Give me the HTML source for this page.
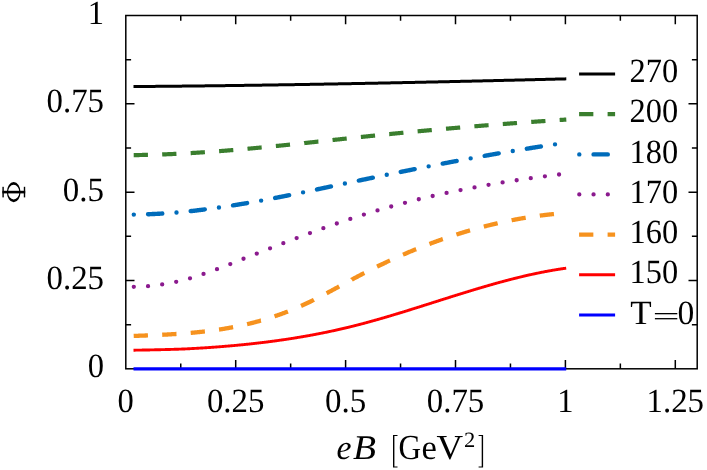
<!DOCTYPE html>
<html><head><meta charset="utf-8"><title>Phi vs eB</title>
<style>html,body{margin:0;padding:0;background:#fff;}svg{display:block;}text{font-family:"Liberation Serif",serif;fill:#000;text-rendering:geometricPrecision;}</style></head><body>
<svg width="707" height="470" viewBox="0 0 707 470">
<rect x="0" y="0" width="707" height="470" fill="#fff"/>
<g fill="none" stroke="#000" stroke-width="1.5" stroke-linecap="butt">
<rect x="125.8" y="15.5" width="571.40" height="353.30"/>
<path d="M180.75,368.8 v-5.3 M180.75,15.5 v5.3 M235.70,368.8 v-8.7 M235.70,15.5 v8.7 M290.65,368.8 v-5.3 M290.65,15.5 v5.3 M345.60,368.8 v-8.7 M345.60,15.5 v8.7 M400.55,368.8 v-5.3 M400.55,15.5 v5.3 M455.50,368.8 v-8.7 M455.50,15.5 v8.7 M510.45,368.8 v-5.3 M510.45,15.5 v5.3 M565.40,368.8 v-8.7 M565.40,15.5 v8.7 M620.35,368.8 v-5.3 M620.35,15.5 v5.3 M675.30,368.8 v-8.7 M675.30,15.5 v8.7 M125.8,324.64 h5.3 M697.2,324.64 h-5.3 M125.8,280.48 h8.7 M697.2,280.48 h-8.7 M125.8,236.31 h5.3 M697.2,236.31 h-5.3 M125.8,192.15 h8.7 M697.2,192.15 h-8.7 M125.8,147.99 h5.3 M697.2,147.99 h-5.3 M125.8,103.82 h8.7 M697.2,103.82 h-8.7 M125.8,59.66 h5.3 M697.2,59.66 h-5.3"/>
</g>
<g fill="none" stroke-linejoin="round">
<path d="M133.5,368.90 L566.2,368.90" stroke="#0000ff" stroke-width="3.1"/>
<path d="M133.50,350.20 L134.04,350.19 L134.58,350.19 L135.12,350.18 L135.67,350.17 L136.21,350.16 L136.75,350.16 L137.29,350.15 L137.83,350.14 L138.37,350.13 L138.92,350.12 L139.46,350.11 L140.00,350.11 L140.54,350.10 L141.08,350.09 L141.62,350.08 L142.16,350.07 L142.71,350.06 L143.25,350.05 L143.79,350.04 L144.33,350.03 L144.87,350.02 L145.41,350.01 L145.96,350.00 L146.50,349.99 L147.04,349.98 L147.58,349.97 L148.12,349.96 L148.66,349.95 L149.21,349.94 L149.75,349.93 L150.29,349.92 L150.83,349.91 L151.37,349.90 L151.91,349.88 L152.45,349.87 L153.00,349.86 L153.54,349.85 L154.08,349.84 L154.62,349.82 L155.16,349.81 L155.70,349.80 L156.25,349.79 L156.79,349.77 L157.33,349.76 L157.87,349.75 L158.41,349.74 L158.95,349.72 L159.49,349.71 L160.04,349.69 L160.58,349.68 L161.12,349.67 L161.66,349.66 L162.20,349.64 L162.74,349.63 L163.29,349.62 L163.83,349.60 L164.37,349.59 L164.91,349.58 L165.45,349.56 L165.99,349.55 L166.53,349.53 L167.08,349.52 L167.62,349.51 L168.16,349.49 L168.70,349.48 L169.24,349.46 L169.78,349.45 L170.33,349.43 L170.87,349.41 L171.41,349.40 L171.95,349.38 L172.49,349.37 L173.03,349.35 L173.57,349.33 L174.12,349.32 L174.66,349.30 L175.20,349.28 L175.74,349.27 L176.28,349.25 L176.82,349.23 L177.37,349.21 L177.91,349.19 L178.45,349.18 L178.99,349.16 L179.53,349.14 L180.07,349.12 L180.62,349.10 L181.16,349.08 L181.70,349.06 L182.24,349.04 L182.78,349.02 L183.32,349.00 L183.86,348.98 L184.41,348.96 L184.95,348.94 L185.49,348.92 L186.03,348.89 L186.57,348.86 L187.11,348.83 L187.66,348.81 L188.20,348.78 L188.74,348.75 L189.28,348.72 L189.82,348.69 L190.36,348.66 L190.90,348.63 L191.45,348.60 L191.99,348.57 L192.53,348.54 L193.07,348.51 L193.61,348.48 L194.15,348.45 L194.70,348.42 L195.24,348.39 L195.78,348.36 L196.32,348.33 L196.86,348.30 L197.40,348.26 L197.94,348.23 L198.49,348.20 L199.03,348.17 L199.57,348.13 L200.11,348.10 L200.65,348.07 L201.19,348.03 L201.74,348.00 L202.28,347.97 L202.82,347.93 L203.36,347.90 L203.90,347.86 L204.44,347.83 L204.98,347.79 L205.53,347.76 L206.07,347.72 L206.61,347.69 L207.15,347.65 L207.69,347.61 L208.23,347.58 L208.78,347.54 L209.32,347.50 L209.86,347.47 L210.40,347.43 L210.94,347.39 L211.48,347.35 L212.03,347.31 L212.57,347.28 L213.11,347.24 L213.65,347.20 L214.19,347.16 L214.73,347.12 L215.27,347.08 L215.82,347.04 L216.36,347.00 L216.90,346.96 L217.44,346.92 L217.98,346.88 L218.52,346.84 L219.07,346.79 L219.61,346.75 L220.15,346.71 L220.69,346.67 L221.23,346.62 L221.77,346.58 L222.31,346.54 L222.86,346.50 L223.40,346.45 L223.94,346.41 L224.48,346.36 L225.02,346.32 L225.56,346.27 L226.11,346.23 L226.65,346.18 L227.19,346.14 L227.73,346.09 L228.27,346.05 L228.81,346.00 L229.35,345.95 L229.90,345.91 L230.44,345.86 L230.98,345.81 L231.52,345.76 L232.06,345.72 L232.60,345.67 L233.15,345.62 L233.69,345.57 L234.23,345.52 L234.77,345.47 L235.31,345.42 L235.85,345.37 L236.39,345.32 L236.94,345.27 L237.48,345.22 L238.02,345.17 L238.56,345.12 L239.10,345.06 L239.64,345.01 L240.19,344.96 L240.73,344.91 L241.27,344.85 L241.81,344.80 L242.35,344.75 L242.89,344.69 L243.44,344.64 L243.98,344.59 L244.52,344.53 L245.06,344.48 L245.60,344.42 L246.14,344.36 L246.68,344.31 L247.23,344.25 L247.77,344.20 L248.31,344.14 L248.85,344.08 L249.39,344.02 L249.93,343.97 L250.48,343.91 L251.02,343.85 L251.56,343.79 L252.10,343.73 L252.64,343.67 L253.18,343.61 L253.72,343.55 L254.27,343.49 L254.81,343.43 L255.35,343.37 L255.89,343.31 L256.43,343.25 L256.97,343.18 L257.52,343.12 L258.06,343.06 L258.60,343.00 L259.14,342.93 L259.68,342.87 L260.22,342.80 L260.76,342.74 L261.31,342.68 L261.85,342.61 L262.39,342.55 L262.93,342.48 L263.47,342.41 L264.01,342.35 L264.56,342.28 L265.10,342.21 L265.64,342.15 L266.18,342.08 L266.72,342.01 L267.26,341.94 L267.80,341.87 L268.35,341.80 L268.89,341.73 L269.43,341.66 L269.97,341.59 L270.51,341.52 L271.05,341.45 L271.60,341.38 L272.14,341.31 L272.68,341.24 L273.22,341.17 L273.76,341.09 L274.30,341.02 L274.85,340.95 L275.39,340.87 L275.93,340.80 L276.47,340.72 L277.01,340.65 L277.55,340.58 L278.09,340.50 L278.64,340.42 L279.18,340.35 L279.72,340.27 L280.26,340.19 L280.80,340.12 L281.34,340.04 L281.89,339.96 L282.43,339.88 L282.97,339.80 L283.51,339.72 L284.05,339.64 L284.59,339.56 L285.13,339.48 L285.68,339.40 L286.22,339.32 L286.76,339.24 L287.30,339.16 L287.84,339.08 L288.38,338.99 L288.93,338.91 L289.47,338.83 L290.01,338.74 L290.55,338.66 L291.09,338.58 L291.63,338.49 L292.17,338.41 L292.72,338.32 L293.26,338.23 L293.80,338.15 L294.34,338.06 L294.88,337.97 L295.42,337.89 L295.97,337.80 L296.51,337.71 L297.05,337.62 L297.59,337.53 L298.13,337.44 L298.67,337.35 L299.21,337.26 L299.76,337.17 L300.30,337.08 L300.84,336.99 L301.38,336.90 L301.92,336.80 L302.46,336.71 L303.01,336.62 L303.55,336.52 L304.09,336.43 L304.63,336.34 L305.17,336.24 L305.71,336.15 L306.26,336.05 L306.80,335.95 L307.34,335.86 L307.88,335.76 L308.42,335.66 L308.96,335.57 L309.50,335.47 L310.05,335.37 L310.59,335.27 L311.13,335.17 L311.67,335.07 L312.21,334.97 L312.75,334.87 L313.30,334.77 L313.84,334.67 L314.38,334.57 L314.92,334.46 L315.46,334.36 L316.00,334.26 L316.54,334.15 L317.09,334.05 L317.63,333.94 L318.17,333.84 L318.71,333.73 L319.25,333.63 L319.79,333.52 L320.34,333.42 L320.88,333.31 L321.42,333.20 L321.96,333.09 L322.50,332.98 L323.04,332.87 L323.58,332.77 L324.13,332.66 L324.67,332.55 L325.21,332.43 L325.75,332.32 L326.29,332.21 L326.83,332.10 L327.38,331.99 L327.92,331.87 L328.46,331.76 L329.00,331.65 L329.54,331.53 L330.08,331.42 L330.62,331.30 L331.17,331.19 L331.71,331.07 L332.25,330.95 L332.79,330.84 L333.33,330.72 L333.87,330.60 L334.42,330.48 L334.96,330.36 L335.50,330.25 L336.04,330.13 L336.58,330.01 L337.12,329.88 L337.67,329.76 L338.21,329.64 L338.75,329.52 L339.29,329.40 L339.83,329.27 L340.37,329.15 L340.91,329.03 L341.46,328.90 L342.00,328.78 L342.54,328.65 L343.08,328.53 L343.62,328.40 L344.16,328.27 L344.71,328.14 L345.25,328.02 L345.79,327.89 L346.33,327.76 L346.87,327.63 L347.41,327.50 L347.95,327.37 L348.50,327.24 L349.04,327.11 L349.58,326.98 L350.12,326.84 L350.66,326.71 L351.20,326.58 L351.75,326.44 L352.29,326.31 L352.83,326.18 L353.37,326.04 L353.91,325.90 L354.45,325.77 L354.99,325.63 L355.54,325.50 L356.08,325.36 L356.62,325.22 L357.16,325.08 L357.70,324.94 L358.24,324.80 L358.79,324.66 L359.33,324.52 L359.87,324.38 L360.41,324.24 L360.95,324.10 L361.49,323.96 L362.03,323.81 L362.58,323.67 L363.12,323.53 L363.66,323.38 L364.20,323.24 L364.74,323.09 L365.28,322.95 L365.83,322.80 L366.37,322.66 L366.91,322.51 L367.45,322.36 L367.99,322.22 L368.53,322.07 L369.08,321.92 L369.62,321.77 L370.16,321.62 L370.70,321.47 L371.24,321.32 L371.78,321.17 L372.32,321.02 L372.87,320.87 L373.41,320.72 L373.95,320.57 L374.49,320.42 L375.03,320.27 L375.57,320.11 L376.12,319.96 L376.66,319.81 L377.20,319.65 L377.74,319.50 L378.28,319.34 L378.82,319.19 L379.36,319.04 L379.91,318.88 L380.45,318.72 L380.99,318.57 L381.53,318.41 L382.07,318.25 L382.61,318.10 L383.16,317.94 L383.70,317.78 L384.24,317.63 L384.78,317.47 L385.32,317.31 L385.86,317.15 L386.40,316.99 L386.95,316.83 L387.49,316.67 L388.03,316.51 L388.57,316.35 L389.11,316.19 L389.65,316.03 L390.20,315.87 L390.74,315.71 L391.28,315.55 L391.82,315.38 L392.36,315.22 L392.90,315.06 L393.44,314.90 L393.99,314.73 L394.53,314.57 L395.07,314.41 L395.61,314.24 L396.15,314.08 L396.69,313.92 L397.24,313.75 L397.78,313.59 L398.32,313.42 L398.86,313.26 L399.40,313.09 L399.94,312.93 L400.49,312.76 L401.03,312.60 L401.57,312.43 L402.11,312.26 L402.65,312.10 L403.19,311.93 L403.73,311.76 L404.28,311.60 L404.82,311.43 L405.36,311.26 L405.90,311.09 L406.44,310.93 L406.98,310.76 L407.53,310.59 L408.07,310.42 L408.61,310.25 L409.15,310.09 L409.69,309.92 L410.23,309.75 L410.77,309.58 L411.32,309.41 L411.86,309.24 L412.40,309.07 L412.94,308.90 L413.48,308.73 L414.02,308.56 L414.57,308.39 L415.11,308.22 L415.65,308.05 L416.19,307.88 L416.73,307.71 L417.27,307.54 L417.81,307.37 L418.36,307.20 L418.90,307.03 L419.44,306.86 L419.98,306.69 L420.52,306.52 L421.06,306.35 L421.61,306.18 L422.15,306.00 L422.69,305.83 L423.23,305.66 L423.77,305.49 L424.31,305.32 L424.85,305.15 L425.40,304.98 L425.94,304.80 L426.48,304.63 L427.02,304.46 L427.56,304.29 L428.10,304.12 L428.65,303.95 L429.19,303.77 L429.73,303.60 L430.27,303.43 L430.81,303.26 L431.35,303.09 L431.90,302.91 L432.44,302.74 L432.98,302.57 L433.52,302.40 L434.06,302.23 L434.60,302.05 L435.14,301.88 L435.69,301.71 L436.23,301.54 L436.77,301.36 L437.31,301.19 L437.85,301.02 L438.39,300.85 L438.94,300.68 L439.48,300.50 L440.02,300.33 L440.56,300.16 L441.10,299.99 L441.64,299.82 L442.18,299.65 L442.73,299.47 L443.27,299.30 L443.81,299.13 L444.35,298.96 L444.89,298.79 L445.43,298.62 L445.98,298.45 L446.52,298.27 L447.06,298.10 L447.60,297.93 L448.14,297.76 L448.68,297.59 L449.22,297.42 L449.77,297.25 L450.31,297.08 L450.85,296.91 L451.39,296.74 L451.93,296.57 L452.47,296.40 L453.02,296.23 L453.56,296.06 L454.10,295.89 L454.64,295.72 L455.18,295.55 L455.72,295.38 L456.26,295.21 L456.81,295.04 L457.35,294.87 L457.89,294.70 L458.43,294.53 L458.97,294.36 L459.51,294.19 L460.06,294.03 L460.60,293.86 L461.14,293.69 L461.68,293.52 L462.22,293.35 L462.76,293.19 L463.31,293.02 L463.85,292.85 L464.39,292.68 L464.93,292.52 L465.47,292.35 L466.01,292.18 L466.55,292.02 L467.10,291.85 L467.64,291.69 L468.18,291.52 L468.72,291.35 L469.26,291.19 L469.80,291.02 L470.35,290.86 L470.89,290.69 L471.43,290.53 L471.97,290.37 L472.51,290.20 L473.05,290.04 L473.59,289.87 L474.14,289.71 L474.68,289.55 L475.22,289.39 L475.76,289.22 L476.30,289.06 L476.84,288.90 L477.39,288.74 L477.93,288.58 L478.47,288.41 L479.01,288.25 L479.55,288.09 L480.09,287.93 L480.63,287.77 L481.18,287.61 L481.72,287.45 L482.26,287.29 L482.80,287.13 L483.34,286.98 L483.88,286.82 L484.43,286.66 L484.97,286.50 L485.51,286.34 L486.05,286.19 L486.59,286.03 L487.13,285.87 L487.67,285.72 L488.22,285.56 L488.76,285.41 L489.30,285.25 L489.84,285.10 L490.38,284.94 L490.92,284.79 L491.47,284.63 L492.01,284.48 L492.55,284.33 L493.09,284.17 L493.63,284.02 L494.17,283.87 L494.72,283.72 L495.26,283.57 L495.80,283.41 L496.34,283.26 L496.88,283.11 L497.42,282.96 L497.96,282.81 L498.51,282.67 L499.05,282.52 L499.59,282.37 L500.13,282.22 L500.67,282.07 L501.21,281.93 L501.76,281.78 L502.30,281.63 L502.84,281.49 L503.38,281.34 L503.92,281.20 L504.46,281.05 L505.00,280.91 L505.55,280.76 L506.09,280.62 L506.63,280.48 L507.17,280.33 L507.71,280.19 L508.25,280.05 L508.80,279.91 L509.34,279.77 L509.88,279.63 L510.42,279.49 L510.96,279.35 L511.50,279.21 L512.04,279.07 L512.59,278.94 L513.13,278.80 L513.67,278.66 L514.21,278.52 L514.75,278.39 L515.29,278.25 L515.84,278.12 L516.38,277.98 L516.92,277.85 L517.46,277.72 L518.00,277.58 L518.54,277.45 L519.08,277.32 L519.63,277.19 L520.17,277.06 L520.71,276.93 L521.25,276.80 L521.79,276.67 L522.33,276.54 L522.88,276.41 L523.42,276.28 L523.96,276.15 L524.50,276.03 L525.04,275.90 L525.58,275.78 L526.13,275.65 L526.67,275.53 L527.21,275.40 L527.75,275.28 L528.29,275.16 L528.83,275.03 L529.37,274.91 L529.92,274.79 L530.46,274.67 L531.00,274.55 L531.54,274.43 L532.08,274.31 L532.62,274.20 L533.17,274.08 L533.71,273.96 L534.25,273.85 L534.79,273.73 L535.33,273.61 L535.87,273.50 L536.41,273.39 L536.96,273.27 L537.50,273.16 L538.04,273.05 L538.58,272.94 L539.12,272.83 L539.66,272.72 L540.21,272.61 L540.75,272.50 L541.29,272.39 L541.83,272.28 L542.37,272.18 L542.91,272.07 L543.45,271.96 L544.00,271.86 L544.54,271.75 L545.08,271.65 L545.62,271.55 L546.16,271.45 L546.70,271.34 L547.25,271.24 L547.79,271.14 L548.33,271.04 L548.87,270.95 L549.41,270.85 L549.95,270.75 L550.49,270.65 L551.04,270.56 L551.58,270.46 L552.12,270.37 L552.66,270.27 L553.20,270.18 L553.74,270.09 L554.29,270.00 L554.83,269.91 L555.37,269.82 L555.91,269.73 L556.45,269.64 L556.99,269.55 L557.54,269.46 L558.08,269.38 L558.62,269.29 L559.16,269.21 L559.70,269.12 L560.24,269.04 L560.78,268.96 L561.33,268.87 L561.87,268.79 L562.41,268.71 L562.95,268.63 L563.49,268.55 L564.03,268.48 L564.58,268.40 L565.12,268.32 L565.66,268.25 L566.20,268.17" stroke="#ff0000" stroke-width="2.9"/>
<path d="M133.70,335.93 L134.24,335.91 L134.78,335.89 L135.32,335.87 L135.86,335.85 L136.41,335.84 L136.95,335.82 L137.49,335.80 L138.03,335.78 L138.57,335.76 L139.11,335.74 L139.65,335.72 L140.19,335.70 L140.73,335.68 L141.27,335.66 L141.82,335.64 L142.36,335.62 L142.90,335.60 L143.44,335.58 L143.98,335.56 L144.52,335.54 L145.06,335.52 L145.60,335.50 L146.14,335.48 L146.69,335.45 L147.23,335.43 L147.77,335.41 L147.96,335.40 M162.22,334.78 L162.38,334.77 L162.92,334.74 L163.46,334.71 L164.00,334.69 L164.54,334.66 L165.08,334.63 L165.62,334.60 L166.16,334.57 L166.70,334.54 L167.25,334.51 L167.79,334.48 L168.33,334.45 L168.87,334.42 L169.41,334.39 L169.95,334.36 L170.49,334.33 L171.03,334.30 L171.57,334.27 L172.11,334.23 L172.66,334.20 L173.20,334.17 L173.74,334.13 L174.28,334.10 L174.82,334.07 L175.36,334.03 L175.90,334.00 L176.44,333.96 L176.46,333.96 M190.69,332.87 L191.05,332.84 L191.59,332.79 L192.13,332.74 L192.67,332.69 L193.22,332.64 L193.76,332.59 L194.30,332.54 L194.84,332.49 L195.38,332.44 L195.92,332.39 L196.46,332.33 L197.00,332.28 L197.54,332.22 L198.09,332.17 L198.63,332.11 L199.17,332.06 L199.71,332.00 L200.25,331.94 L200.79,331.89 L201.33,331.83 L201.87,331.77 L202.41,331.71 L202.95,331.65 L203.50,331.59 L204.04,331.53 L204.58,331.46 L204.89,331.43 M219.03,329.55 L219.19,329.53 L219.73,329.44 L220.27,329.36 L220.81,329.28 L221.35,329.19 L221.89,329.11 L222.43,329.02 L222.97,328.93 L223.51,328.85 L224.06,328.76 L224.60,328.67 L225.14,328.58 L225.68,328.49 L226.22,328.40 L226.76,328.31 L227.30,328.21 L227.84,328.12 L228.38,328.02 L228.93,327.93 L229.47,327.83 L230.01,327.73 L230.55,327.63 L231.09,327.54 L231.63,327.44 L232.17,327.33 L232.71,327.23 L233.10,327.16 M247.06,324.19 L247.32,324.13 L247.86,324.00 L248.40,323.87 L248.94,323.74 L249.48,323.61 L250.03,323.48 L250.57,323.34 L251.11,323.21 L251.65,323.07 L252.19,322.94 L252.73,322.80 L253.27,322.66 L253.81,322.52 L254.35,322.38 L254.90,322.24 L255.44,322.09 L255.98,321.95 L256.52,321.80 L257.06,321.66 L257.60,321.51 L258.14,321.36 L258.68,321.21 L259.22,321.06 L259.76,320.91 L260.31,320.76 L260.85,320.60 L260.87,320.60 M274.49,316.35 L274.91,316.20 L275.46,316.02 L276.00,315.83 L276.54,315.65 L277.08,315.46 L277.62,315.27 L278.16,315.08 L278.70,314.89 L279.24,314.70 L279.78,314.50 L280.32,314.31 L280.87,314.11 L281.41,313.91 L281.95,313.72 L282.49,313.52 L283.03,313.31 L283.57,313.11 L284.11,312.91 L284.65,312.71 L285.19,312.50 L285.74,312.29 L286.28,312.09 L286.82,311.88 L287.36,311.67 L287.89,311.46 M301.05,305.94 L301.43,305.77 L301.97,305.53 L302.51,305.29 L303.05,305.04 L303.59,304.79 L304.13,304.55 L304.67,304.30 L305.21,304.04 L305.75,303.79 L306.30,303.54 L306.84,303.29 L307.38,303.03 L307.92,302.77 L308.46,302.51 L309.00,302.25 L309.54,301.99 L310.08,301.73 L310.62,301.47 L311.16,301.20 L311.71,300.94 L312.25,300.67 L312.79,300.41 L313.33,300.14 L313.87,299.87 L313.94,299.83 M326.61,293.26 L326.86,293.13 L327.40,292.84 L327.94,292.55 L328.48,292.26 L329.02,291.97 L329.56,291.68 L330.10,291.39 L330.64,291.10 L331.18,290.81 L331.72,290.52 L332.27,290.22 L332.81,289.93 L333.35,289.64 L333.89,289.35 L334.43,289.05 L334.97,288.76 L335.51,288.47 L336.05,288.17 L336.59,287.88 L337.14,287.58 L337.68,287.29 L338.22,287.00 L338.76,286.70 L339.17,286.48 M351.71,279.67 L351.74,279.64 L352.28,279.35 L352.83,279.06 L353.37,278.77 L353.91,278.48 L354.45,278.19 L354.99,277.90 L355.53,277.62 L356.07,277.33 L356.61,277.04 L357.15,276.75 L357.70,276.47 L358.24,276.18 L358.78,275.90 L359.32,275.61 L359.86,275.33 L360.40,275.05 L360.94,274.76 L361.48,274.48 L362.02,274.20 L362.56,273.92 L363.11,273.64 L363.65,273.36 L364.19,273.08 L364.33,273.01 M377.08,266.61 L377.17,266.57 L377.71,266.31 L378.26,266.04 L378.80,265.78 L379.34,265.52 L379.88,265.26 L380.42,265.00 L380.96,264.74 L381.50,264.48 L382.04,264.22 L382.58,263.96 L383.12,263.70 L383.67,263.45 L384.21,263.19 L384.75,262.93 L385.29,262.68 L385.83,262.43 L386.37,262.17 L386.91,261.92 L387.45,261.67 L387.99,261.41 L388.54,261.16 L389.08,260.91 L389.62,260.66 L389.98,260.50 M403.00,254.67 L403.14,254.61 L403.68,254.38 L404.23,254.14 L404.77,253.91 L405.31,253.68 L405.85,253.45 L406.39,253.22 L406.93,252.99 L407.47,252.76 L408.01,252.53 L408.55,252.30 L409.10,252.07 L409.64,251.85 L410.18,251.62 L410.72,251.39 L411.26,251.17 L411.80,250.94 L412.34,250.72 L412.88,250.50 L413.42,250.27 L413.96,250.05 L414.51,249.83 L415.05,249.61 L415.59,249.39 L416.13,249.17 L416.16,249.16 M429.46,243.96 L429.66,243.89 L430.20,243.69 L430.74,243.48 L431.28,243.28 L431.82,243.08 L432.36,242.87 L432.90,242.67 L433.44,242.47 L433.98,242.27 L434.52,242.07 L435.07,241.87 L435.61,241.67 L436.15,241.48 L436.69,241.28 L437.23,241.08 L437.77,240.89 L438.31,240.69 L438.85,240.50 L439.39,240.30 L439.94,240.11 L440.48,239.92 L441.02,239.73 L441.56,239.54 L442.10,239.34 L442.64,239.15 L442.86,239.08 M456.39,234.54 L456.71,234.44 L457.25,234.27 L457.79,234.10 L458.33,233.93 L458.87,233.75 L459.41,233.58 L459.95,233.42 L460.49,233.25 L461.04,233.08 L461.58,232.91 L462.12,232.74 L462.66,232.58 L463.20,232.41 L463.74,232.25 L464.28,232.08 L464.82,231.92 L465.36,231.76 L465.91,231.59 L466.45,231.43 L466.99,231.27 L467.53,231.11 L468.07,230.95 L468.61,230.79 L469.15,230.64 L469.69,230.48 L470.04,230.38 M483.80,226.60 L484.30,226.47 L484.84,226.33 L485.38,226.19 L485.92,226.05 L486.47,225.91 L487.01,225.78 L487.55,225.64 L488.09,225.51 L488.63,225.37 L489.17,225.24 L489.71,225.10 L490.25,224.97 L490.79,224.84 L491.33,224.71 L491.88,224.58 L492.42,224.45 L492.96,224.32 L493.50,224.19 L494.04,224.06 L494.58,223.93 L495.12,223.81 L495.66,223.68 L496.20,223.55 L496.75,223.43 L497.29,223.31 L497.66,223.22 M511.62,220.26 L511.89,220.21 L512.44,220.10 L512.98,220.00 L513.52,219.89 L514.06,219.79 L514.60,219.68 L515.14,219.58 L515.68,219.48 L516.22,219.38 L516.76,219.28 L517.31,219.18 L517.85,219.08 L518.39,218.98 L518.93,218.89 L519.47,218.79 L520.01,218.69 L520.55,218.60 L521.09,218.50 L521.63,218.41 L522.17,218.32 L522.72,218.22 L523.26,218.13 L523.80,218.04 L524.34,217.95 L524.88,217.86 L525.42,217.77 L525.67,217.73 M539.78,215.65 L540.03,215.61 L540.57,215.54 L541.11,215.47 L541.65,215.40 L542.19,215.34 L542.73,215.27 L543.28,215.20 L543.82,215.13 L544.36,215.07 L544.90,215.00 L545.44,214.94 L545.98,214.88 L546.52,214.81 L547.06,214.75 L547.60,214.69 L548.15,214.63 L548.69,214.57 L549.23,214.51 L549.77,214.45 L550.31,214.39 L550.85,214.34 L551.39,214.28 L551.93,214.22 L552.47,214.17 L553.01,214.11 L553.56,214.06 L553.96,214.02" stroke="#f6921e" stroke-width="4.3"/>
<path d="M133.80,286.83 L133.81,286.83 M148.03,286.13 L148.04,286.13 M162.17,284.38 L162.18,284.38 M176.18,281.83 L176.19,281.83 M190.00,278.33 L190.01,278.33 M203.53,273.88 L203.54,273.88 M216.99,269.18 L217.00,269.18 M230.28,264.07 L230.29,264.07 M243.51,258.76 L243.52,258.76 M256.78,253.56 L256.79,253.56 M270.05,248.36 L270.06,248.36 M283.33,243.19 L283.34,243.19 M296.63,238.08 L296.64,238.08 M309.97,233.08 L309.98,233.08 M323.36,228.21 L323.37,228.21 M336.80,223.48 L336.81,223.48 M350.31,218.93 L350.32,218.93 M363.88,214.58 L363.89,214.58 M377.51,210.45 L377.52,210.45 M391.21,206.52 L391.22,206.52 M404.97,202.80 L404.98,202.80 M418.78,199.27 L418.79,199.27 M432.65,196.02 L432.66,196.02 M446.57,192.97 L446.58,192.97 M460.53,190.11 L460.54,190.11 M474.52,187.42 L474.53,187.42 M488.54,184.85 L488.55,184.85 M502.59,182.47 L502.60,182.47 M516.66,180.24 L516.67,180.24 M530.76,178.18 L530.77,178.18 M544.89,176.28 L544.90,176.28 M559.03,174.52 L559.04,174.52" stroke="#8b1a8e" stroke-width="4.3" stroke-linecap="round"/>
<path d="M133.80,214.60 L133.81,214.60 M148.04,214.24 L148.41,214.22 L148.95,214.20 L149.49,214.18 L150.03,214.16 L150.57,214.14 L151.11,214.12 L151.65,214.09 L152.19,214.07 L152.73,214.05 L153.27,214.02 L153.81,214.00 L154.36,213.97 L154.90,213.95 L155.44,213.92 L155.98,213.89 L156.52,213.87 L157.06,213.84 L157.60,213.81 L158.14,213.78 L158.68,213.75 L159.22,213.73 L159.76,213.70 L160.31,213.67 L160.85,213.64 L161.39,213.60 L161.93,213.57 L162.28,213.55 M176.49,212.56 L176.50,212.56 M190.67,211.11 L191.14,211.06 L191.68,211.00 L192.22,210.94 L192.76,210.88 L193.30,210.81 L193.84,210.75 L194.38,210.69 L194.92,210.63 L195.47,210.56 L196.01,210.50 L196.55,210.44 L197.09,210.37 L197.63,210.31 L198.17,210.24 L198.71,210.18 L199.25,210.11 L199.79,210.04 L200.33,209.98 L200.87,209.91 L201.42,209.84 L201.96,209.78 L202.50,209.71 L203.04,209.64 L203.58,209.57 L204.12,209.50 L204.66,209.43 L204.82,209.41 M218.94,207.49 L218.95,207.49 M233.03,205.37 L233.33,205.32 L233.87,205.24 L234.41,205.15 L234.95,205.07 L235.49,204.98 L236.04,204.90 L236.58,204.81 L237.12,204.72 L237.66,204.63 L238.20,204.55 L238.74,204.46 L239.28,204.37 L239.82,204.28 L240.36,204.19 L240.90,204.11 L241.44,204.02 L241.99,203.93 L242.53,203.84 L243.07,203.75 L243.61,203.66 L244.15,203.57 L244.69,203.48 L245.23,203.39 L245.77,203.30 L246.31,203.21 L246.85,203.11 L247.09,203.07 M261.13,200.62 L261.14,200.62 M275.13,197.96 L275.52,197.88 L276.06,197.78 L276.60,197.67 L277.15,197.57 L277.69,197.46 L278.23,197.35 L278.77,197.25 L279.31,197.14 L279.85,197.03 L280.39,196.93 L280.93,196.82 L281.47,196.71 L282.01,196.61 L282.55,196.50 L283.10,196.39 L283.64,196.29 L284.18,196.18 L284.72,196.07 L285.26,195.96 L285.80,195.85 L286.34,195.75 L286.88,195.64 L287.42,195.53 L287.96,195.42 L288.50,195.31 L289.05,195.20 L289.11,195.19 M303.07,192.33 L303.08,192.33 M317.01,189.41 L317.17,189.37 L317.71,189.26 L318.26,189.14 L318.80,189.03 L319.34,188.91 L319.88,188.80 L320.42,188.68 L320.96,188.57 L321.50,188.45 L322.04,188.34 L322.58,188.22 L323.12,188.11 L323.67,187.99 L324.21,187.88 L324.75,187.76 L325.29,187.65 L325.83,187.53 L326.37,187.42 L326.91,187.30 L327.45,187.18 L327.99,187.07 L328.53,186.95 L329.07,186.84 L329.62,186.72 L330.16,186.60 L330.70,186.49 L330.95,186.43 M344.89,183.47 L344.90,183.47 M358.84,180.56 L359.37,180.46 L359.91,180.34 L360.45,180.23 L360.99,180.12 L361.53,180.01 L362.07,179.89 L362.61,179.78 L363.15,179.67 L363.69,179.56 L364.23,179.44 L364.78,179.33 L365.32,179.22 L365.86,179.11 L366.40,178.99 L366.94,178.88 L367.48,178.77 L368.02,178.65 L368.56,178.54 L369.10,178.43 L369.64,178.32 L370.18,178.20 L370.73,178.09 L371.27,177.98 L371.81,177.87 L372.35,177.75 L372.79,177.66 M386.75,174.78 L386.76,174.78 M400.71,171.92 L401.02,171.86 L401.56,171.75 L402.10,171.64 L402.64,171.53 L403.18,171.42 L403.72,171.31 L404.26,171.20 L404.80,171.09 L405.34,170.99 L405.89,170.88 L406.43,170.77 L406.97,170.66 L407.51,170.55 L408.05,170.44 L408.59,170.33 L409.13,170.22 L409.67,170.11 L410.21,170.00 L410.75,169.90 L411.30,169.79 L411.84,169.68 L412.38,169.57 L412.92,169.46 L413.46,169.35 L414.00,169.25 L414.54,169.14 L414.68,169.11 M428.65,166.34 L428.66,166.34 M442.64,163.62 L442.67,163.62 L443.21,163.51 L443.75,163.41 L444.29,163.30 L444.83,163.20 L445.37,163.10 L445.91,162.99 L446.46,162.89 L447.00,162.79 L447.54,162.68 L448.08,162.58 L448.62,162.48 L449.16,162.37 L449.70,162.27 L450.24,162.17 L450.78,162.06 L451.32,161.96 L451.86,161.86 L452.41,161.76 L452.95,161.65 L453.49,161.55 L454.03,161.45 L454.57,161.35 L455.11,161.24 L455.65,161.14 L456.19,161.04 L456.64,160.96 M470.65,158.35 L470.66,158.35 M484.67,155.82 L484.86,155.79 L485.40,155.69 L485.94,155.59 L486.48,155.50 L487.02,155.40 L487.57,155.30 L488.11,155.21 L488.65,155.11 L489.19,155.02 L489.73,154.92 L490.27,154.83 L490.81,154.73 L491.35,154.64 L491.89,154.54 L492.43,154.45 L492.97,154.35 L493.52,154.26 L494.06,154.16 L494.60,154.07 L495.14,153.98 L495.68,153.88 L496.22,153.79 L496.76,153.69 L497.30,153.60 L497.84,153.51 L498.38,153.41 L498.71,153.36 M512.76,150.98 L512.77,150.98 M526.82,148.68 L527.05,148.64 L527.59,148.56 L528.14,148.47 L528.68,148.39 L529.22,148.30 L529.76,148.21 L530.30,148.13 L530.84,148.04 L531.38,147.96 L531.92,147.87 L532.46,147.79 L533.00,147.70 L533.54,147.62 L534.09,147.53 L534.63,147.45 L535.17,147.36 L535.71,147.28 L536.25,147.19 L536.79,147.11 L537.33,147.03 L537.87,146.94 L538.41,146.86 L538.95,146.78 L539.49,146.69 L540.04,146.61 L540.58,146.53 L540.90,146.48 M555.00,144.37 L555.01,144.37" stroke="#006cbb" stroke-width="4.4" stroke-linecap="round"/>
<path d="M133.70,155.09 L134.24,155.09 L134.78,155.08 L135.32,155.07 L135.87,155.07 L136.41,155.06 L136.95,155.06 L137.49,155.05 L138.03,155.04 L138.57,155.03 L139.11,155.03 L139.66,155.02 L140.20,155.01 L140.74,155.00 L141.28,154.99 L141.82,154.98 L142.36,154.97 L142.90,154.96 L143.45,154.95 L143.99,154.94 L144.53,154.93 L145.07,154.92 L145.61,154.91 L146.15,154.90 L146.69,154.89 L147.24,154.88 L147.78,154.86 L147.95,154.86 M162.19,154.44 L162.40,154.43 L162.94,154.41 L163.48,154.39 L164.02,154.37 L164.56,154.35 L165.10,154.33 L165.64,154.31 L166.19,154.29 L166.73,154.27 L167.27,154.24 L167.81,154.22 L168.35,154.20 L168.89,154.18 L169.43,154.15 L169.98,154.13 L170.52,154.11 L171.06,154.09 L171.60,154.06 L172.14,154.04 L172.68,154.01 L173.22,153.99 L173.77,153.96 L174.31,153.94 L174.85,153.91 L175.39,153.89 L175.93,153.86 L176.43,153.84 M190.66,153.08 L191.09,153.06 L191.63,153.03 L192.17,153.00 L192.72,152.96 L193.26,152.93 L193.80,152.90 L194.34,152.86 L194.88,152.83 L195.42,152.80 L195.96,152.76 L196.51,152.73 L197.05,152.70 L197.59,152.66 L198.13,152.63 L198.67,152.59 L199.21,152.56 L199.75,152.52 L200.30,152.49 L200.84,152.45 L201.38,152.42 L201.92,152.38 L202.46,152.35 L203.00,152.31 L203.54,152.27 L204.09,152.24 L204.63,152.20 L204.88,152.18 M219.09,151.15 L219.25,151.14 L219.79,151.10 L220.33,151.06 L220.87,151.02 L221.41,150.97 L221.95,150.93 L222.49,150.89 L223.04,150.85 L223.58,150.80 L224.12,150.76 L224.66,150.72 L225.20,150.68 L225.74,150.63 L226.28,150.59 L226.83,150.54 L227.37,150.50 L227.91,150.46 L228.45,150.41 L228.99,150.37 L229.53,150.32 L230.07,150.28 L230.62,150.23 L231.16,150.19 L231.70,150.14 L232.24,150.10 L232.78,150.05 L233.30,150.01 M247.49,148.77 L247.94,148.73 L248.48,148.68 L249.02,148.63 L249.57,148.58 L250.11,148.53 L250.65,148.48 L251.19,148.43 L251.73,148.38 L252.27,148.33 L252.81,148.28 L253.36,148.23 L253.90,148.18 L254.44,148.13 L254.98,148.08 L255.52,148.02 L256.06,147.97 L256.60,147.92 L257.15,147.87 L257.69,147.82 L258.23,147.77 L258.77,147.72 L259.31,147.67 L259.85,147.61 L260.39,147.56 L260.94,147.51 L261.48,147.46 L261.68,147.44 M275.86,146.04 L276.10,146.02 L276.64,145.96 L277.18,145.91 L277.72,145.85 L278.26,145.80 L278.80,145.74 L279.34,145.69 L279.89,145.63 L280.43,145.58 L280.97,145.52 L281.51,145.47 L282.05,145.41 L282.59,145.36 L283.13,145.30 L283.68,145.25 L284.22,145.19 L284.76,145.14 L285.30,145.08 L285.84,145.02 L286.38,144.97 L286.92,144.91 L287.47,144.86 L288.01,144.80 L288.55,144.74 L289.09,144.69 L289.63,144.63 L290.04,144.59 M304.21,143.10 L304.25,143.09 L304.79,143.03 L305.33,142.98 L305.87,142.92 L306.42,142.86 L306.96,142.80 L307.50,142.74 L308.04,142.69 L308.58,142.63 L309.12,142.57 L309.66,142.51 L310.21,142.45 L310.75,142.40 L311.29,142.34 L311.83,142.28 L312.37,142.22 L312.91,142.16 L313.45,142.11 L314.00,142.05 L314.54,141.99 L315.08,141.93 L315.62,141.87 L316.16,141.82 L316.70,141.76 L317.24,141.70 L317.79,141.64 L318.33,141.58 L318.38,141.58 M332.55,140.05 L332.95,140.00 L333.49,139.94 L334.03,139.89 L334.57,139.83 L335.11,139.77 L335.65,139.71 L336.19,139.65 L336.74,139.59 L337.28,139.53 L337.82,139.48 L338.36,139.42 L338.90,139.36 L339.44,139.30 L339.98,139.24 L340.53,139.18 L341.07,139.13 L341.61,139.07 L342.15,139.01 L342.69,138.95 L343.23,138.89 L343.77,138.83 L344.32,138.78 L344.86,138.72 L345.40,138.66 L345.94,138.60 L346.48,138.54 L346.71,138.52 M360.88,137.01 L361.10,136.99 L361.64,136.93 L362.18,136.87 L362.72,136.81 L363.26,136.76 L363.81,136.70 L364.35,136.64 L364.89,136.59 L365.43,136.53 L365.97,136.47 L366.51,136.42 L367.05,136.36 L367.60,136.30 L368.14,136.25 L368.68,136.19 L369.22,136.13 L369.76,136.08 L370.30,136.02 L370.84,135.96 L371.39,135.91 L371.93,135.85 L372.47,135.80 L373.01,135.74 L373.55,135.68 L374.09,135.63 L374.63,135.57 L375.06,135.53 M389.23,134.09 L389.25,134.09 L389.79,134.04 L390.34,133.98 L390.88,133.93 L391.42,133.87 L391.96,133.82 L392.50,133.77 L393.04,133.71 L393.58,133.66 L394.13,133.61 L394.67,133.55 L395.21,133.50 L395.75,133.44 L396.29,133.39 L396.83,133.34 L397.37,133.28 L397.92,133.23 L398.46,133.18 L399.00,133.13 L399.54,133.07 L400.08,133.02 L400.62,132.97 L401.16,132.91 L401.71,132.86 L402.25,132.81 L402.79,132.76 L403.33,132.70 L403.41,132.69 M417.60,131.34 L417.95,131.31 L418.49,131.25 L419.03,131.20 L419.57,131.15 L420.11,131.10 L420.66,131.05 L421.20,131.00 L421.74,130.95 L422.28,130.90 L422.82,130.85 L423.36,130.80 L423.90,130.75 L424.45,130.70 L424.99,130.65 L425.53,130.60 L426.07,130.55 L426.61,130.50 L427.15,130.45 L427.69,130.40 L428.24,130.35 L428.78,130.30 L429.32,130.25 L429.86,130.20 L430.40,130.15 L430.94,130.10 L431.48,130.05 L431.79,130.02 M445.98,128.75 L446.10,128.74 L446.64,128.69 L447.19,128.64 L447.73,128.59 L448.27,128.55 L448.81,128.50 L449.35,128.45 L449.89,128.40 L450.43,128.36 L450.98,128.31 L451.52,128.26 L452.06,128.21 L452.60,128.17 L453.14,128.12 L453.68,128.07 L454.22,128.02 L454.77,127.98 L455.31,127.93 L455.85,127.88 L456.39,127.84 L456.93,127.79 L457.47,127.74 L458.01,127.70 L458.56,127.65 L459.10,127.60 L459.64,127.56 L460.18,127.51 M474.38,126.32 L474.80,126.28 L475.34,126.24 L475.88,126.19 L476.42,126.15 L476.96,126.10 L477.51,126.06 L478.05,126.02 L478.59,125.97 L479.13,125.93 L479.67,125.88 L480.21,125.84 L480.75,125.79 L481.30,125.75 L481.84,125.71 L482.38,125.66 L482.92,125.62 L483.46,125.58 L484.00,125.53 L484.54,125.49 L485.09,125.44 L485.63,125.40 L486.17,125.36 L486.71,125.31 L487.25,125.27 L487.79,125.23 L488.33,125.18 L488.58,125.16 M502.79,124.05 L502.95,124.04 L503.49,124.00 L504.04,123.95 L504.58,123.91 L505.12,123.87 L505.66,123.83 L506.20,123.79 L506.74,123.75 L507.28,123.71 L507.83,123.67 L508.37,123.62 L508.91,123.58 L509.45,123.54 L509.99,123.50 L510.53,123.46 L511.07,123.42 L511.62,123.38 L512.16,123.34 L512.70,123.30 L513.24,123.26 L513.78,123.22 L514.32,123.18 L514.86,123.14 L515.41,123.10 L515.95,123.06 L516.49,123.02 L517.00,122.98 M531.21,121.94 L531.65,121.91 L532.19,121.88 L532.73,121.84 L533.27,121.80 L533.81,121.76 L534.36,121.72 L534.90,121.68 L535.44,121.65 L535.98,121.61 L536.52,121.57 L537.06,121.53 L537.60,121.49 L538.15,121.46 L538.69,121.42 L539.23,121.38 L539.77,121.34 L540.31,121.30 L540.85,121.27 L541.39,121.23 L541.94,121.19 L542.48,121.15 L543.02,121.12 L543.56,121.08 L544.10,121.04 L544.64,121.01 L545.18,120.97 L545.43,120.95 M559.64,120.00 L559.80,119.99 L560.34,119.95 L560.89,119.92 L561.43,119.88 L561.97,119.85 L562.51,119.81 L563.05,119.78 L563.59,119.74 L564.13,119.71 L564.68,119.67 L565.22,119.64 L565.76,119.60 L566.30,119.57" stroke="#3a7e2e" stroke-width="4.2"/>
<path d="M133.50,86.55 L134.04,86.55 L134.58,86.54 L135.13,86.54 L135.67,86.53 L136.21,86.53 L136.75,86.53 L137.29,86.52 L137.83,86.52 L138.38,86.51 L138.92,86.51 L139.46,86.51 L140.00,86.50 L140.54,86.50 L141.08,86.49 L141.63,86.49 L142.17,86.48 L142.71,86.48 L143.25,86.48 L143.79,86.47 L144.33,86.47 L144.88,86.46 L145.42,86.46 L145.96,86.45 L146.50,86.45 L147.04,86.45 L147.58,86.44 L148.13,86.44 L148.67,86.43 L149.21,86.43 L149.75,86.42 L150.29,86.42 L150.83,86.41 L151.38,86.41 L151.92,86.40 L152.46,86.40 L153.00,86.40 L153.54,86.39 L154.08,86.39 L154.63,86.38 L155.17,86.38 L155.71,86.37 L156.25,86.37 L156.79,86.36 L157.33,86.36 L157.88,86.35 L158.42,86.35 L158.96,86.34 L159.50,86.34 L160.04,86.33 L160.58,86.33 L161.13,86.32 L161.67,86.32 L162.21,86.31 L162.75,86.31 L163.29,86.30 L163.83,86.30 L164.38,86.29 L164.92,86.29 L165.46,86.28 L166.00,86.28 L166.54,86.27 L167.08,86.27 L167.63,86.26 L168.17,86.26 L168.71,86.25 L169.25,86.25 L169.79,86.24 L170.33,86.24 L170.88,86.23 L171.42,86.23 L171.96,86.22 L172.50,86.22 L173.04,86.21 L173.58,86.21 L174.13,86.20 L174.67,86.20 L175.21,86.19 L175.75,86.19 L176.29,86.18 L176.83,86.18 L177.38,86.17 L177.92,86.16 L178.46,86.16 L179.00,86.15 L179.54,86.15 L180.08,86.14 L180.63,86.14 L181.17,86.13 L181.71,86.13 L182.25,86.12 L182.79,86.12 L183.33,86.11 L183.88,86.10 L184.42,86.10 L184.96,86.09 L185.50,86.09 L186.04,86.08 L186.58,86.08 L187.13,86.07 L187.67,86.06 L188.21,86.06 L188.75,86.05 L189.29,86.05 L189.83,86.04 L190.38,86.04 L190.92,86.03 L191.46,86.02 L192.00,86.02 L192.54,86.01 L193.08,86.01 L193.63,86.00 L194.17,85.99 L194.71,85.99 L195.25,85.98 L195.79,85.98 L196.33,85.97 L196.88,85.96 L197.42,85.96 L197.96,85.95 L198.50,85.95 L199.04,85.94 L199.58,85.93 L200.13,85.93 L200.67,85.92 L201.21,85.92 L201.75,85.91 L202.29,85.90 L202.83,85.90 L203.38,85.89 L203.92,85.88 L204.46,85.88 L205.00,85.87 L205.54,85.87 L206.08,85.86 L206.63,85.85 L207.17,85.85 L207.71,85.84 L208.25,85.83 L208.79,85.83 L209.33,85.82 L209.88,85.81 L210.42,85.81 L210.96,85.80 L211.50,85.80 L212.04,85.79 L212.58,85.78 L213.13,85.78 L213.67,85.77 L214.21,85.76 L214.75,85.76 L215.29,85.75 L215.83,85.74 L216.38,85.74 L216.92,85.73 L217.46,85.72 L218.00,85.72 L218.54,85.71 L219.08,85.70 L219.63,85.70 L220.17,85.69 L220.71,85.68 L221.25,85.68 L221.79,85.67 L222.34,85.66 L222.88,85.66 L223.42,85.65 L223.96,85.64 L224.50,85.64 L225.04,85.63 L225.59,85.62 L226.13,85.62 L226.67,85.61 L227.21,85.60 L227.75,85.59 L228.29,85.59 L228.84,85.58 L229.38,85.57 L229.92,85.57 L230.46,85.56 L231.00,85.55 L231.54,85.55 L232.09,85.54 L232.63,85.53 L233.17,85.52 L233.71,85.52 L234.25,85.51 L234.79,85.50 L235.34,85.50 L235.88,85.49 L236.42,85.48 L236.96,85.47 L237.50,85.47 L238.04,85.46 L238.59,85.45 L239.13,85.45 L239.67,85.44 L240.21,85.43 L240.75,85.42 L241.29,85.42 L241.84,85.41 L242.38,85.40 L242.92,85.39 L243.46,85.39 L244.00,85.38 L244.54,85.37 L245.09,85.36 L245.63,85.36 L246.17,85.35 L246.71,85.34 L247.25,85.33 L247.79,85.33 L248.34,85.32 L248.88,85.31 L249.42,85.30 L249.96,85.30 L250.50,85.29 L251.04,85.28 L251.59,85.27 L252.13,85.27 L252.67,85.26 L253.21,85.25 L253.75,85.24 L254.29,85.24 L254.84,85.23 L255.38,85.22 L255.92,85.21 L256.46,85.20 L257.00,85.20 L257.54,85.19 L258.09,85.18 L258.63,85.17 L259.17,85.17 L259.71,85.16 L260.25,85.15 L260.79,85.14 L261.34,85.13 L261.88,85.13 L262.42,85.12 L262.96,85.11 L263.50,85.10 L264.04,85.09 L264.59,85.09 L265.13,85.08 L265.67,85.07 L266.21,85.06 L266.75,85.05 L267.29,85.05 L267.84,85.04 L268.38,85.03 L268.92,85.02 L269.46,85.01 L270.00,85.01 L270.54,85.00 L271.09,84.99 L271.63,84.98 L272.17,84.97 L272.71,84.97 L273.25,84.96 L273.79,84.95 L274.34,84.94 L274.88,84.93 L275.42,84.92 L275.96,84.92 L276.50,84.91 L277.04,84.90 L277.59,84.89 L278.13,84.88 L278.67,84.87 L279.21,84.87 L279.75,84.86 L280.29,84.85 L280.84,84.84 L281.38,84.83 L281.92,84.82 L282.46,84.82 L283.00,84.81 L283.54,84.80 L284.09,84.79 L284.63,84.78 L285.17,84.77 L285.71,84.76 L286.25,84.76 L286.79,84.75 L287.34,84.74 L287.88,84.73 L288.42,84.72 L288.96,84.71 L289.50,84.70 L290.04,84.70 L290.59,84.69 L291.13,84.68 L291.67,84.67 L292.21,84.66 L292.75,84.65 L293.29,84.64 L293.84,84.63 L294.38,84.63 L294.92,84.62 L295.46,84.61 L296.00,84.60 L296.54,84.59 L297.09,84.58 L297.63,84.57 L298.17,84.56 L298.71,84.56 L299.25,84.55 L299.79,84.54 L300.34,84.53 L300.88,84.52 L301.42,84.51 L301.96,84.50 L302.50,84.49 L303.04,84.48 L303.59,84.47 L304.13,84.47 L304.67,84.46 L305.21,84.45 L305.75,84.44 L306.29,84.43 L306.84,84.42 L307.38,84.41 L307.92,84.40 L308.46,84.39 L309.00,84.38 L309.55,84.38 L310.09,84.37 L310.63,84.36 L311.17,84.35 L311.71,84.34 L312.25,84.33 L312.80,84.32 L313.34,84.31 L313.88,84.30 L314.42,84.29 L314.96,84.28 L315.50,84.27 L316.05,84.26 L316.59,84.26 L317.13,84.25 L317.67,84.24 L318.21,84.23 L318.75,84.22 L319.30,84.21 L319.84,84.20 L320.38,84.19 L320.92,84.18 L321.46,84.17 L322.00,84.16 L322.55,84.15 L323.09,84.14 L323.63,84.13 L324.17,84.12 L324.71,84.11 L325.25,84.10 L325.80,84.10 L326.34,84.09 L326.88,84.08 L327.42,84.07 L327.96,84.06 L328.50,84.05 L329.05,84.04 L329.59,84.03 L330.13,84.02 L330.67,84.01 L331.21,84.00 L331.75,83.99 L332.30,83.98 L332.84,83.97 L333.38,83.96 L333.92,83.95 L334.46,83.94 L335.00,83.93 L335.55,83.92 L336.09,83.91 L336.63,83.90 L337.17,83.89 L337.71,83.88 L338.25,83.87 L338.80,83.86 L339.34,83.85 L339.88,83.84 L340.42,83.83 L340.96,83.82 L341.50,83.81 L342.05,83.80 L342.59,83.79 L343.13,83.78 L343.67,83.77 L344.21,83.76 L344.75,83.75 L345.30,83.74 L345.84,83.73 L346.38,83.72 L346.92,83.71 L347.46,83.70 L348.00,83.69 L348.55,83.68 L349.09,83.67 L349.63,83.66 L350.17,83.65 L350.71,83.64 L351.25,83.63 L351.80,83.62 L352.34,83.61 L352.88,83.60 L353.42,83.59 L353.96,83.58 L354.50,83.57 L355.05,83.56 L355.59,83.55 L356.13,83.54 L356.67,83.53 L357.21,83.52 L357.75,83.51 L358.30,83.50 L358.84,83.49 L359.38,83.48 L359.92,83.47 L360.46,83.46 L361.00,83.45 L361.55,83.44 L362.09,83.43 L362.63,83.42 L363.17,83.41 L363.71,83.40 L364.25,83.39 L364.80,83.38 L365.34,83.37 L365.88,83.36 L366.42,83.35 L366.96,83.34 L367.50,83.33 L368.05,83.32 L368.59,83.31 L369.13,83.29 L369.67,83.28 L370.21,83.27 L370.75,83.26 L371.30,83.25 L371.84,83.24 L372.38,83.23 L372.92,83.22 L373.46,83.21 L374.00,83.20 L374.55,83.19 L375.09,83.18 L375.63,83.17 L376.17,83.16 L376.71,83.15 L377.25,83.14 L377.80,83.13 L378.34,83.11 L378.88,83.10 L379.42,83.09 L379.96,83.08 L380.50,83.07 L381.05,83.06 L381.59,83.05 L382.13,83.04 L382.67,83.03 L383.21,83.02 L383.75,83.01 L384.30,83.00 L384.84,82.99 L385.38,82.97 L385.92,82.96 L386.46,82.95 L387.00,82.94 L387.55,82.93 L388.09,82.92 L388.63,82.91 L389.17,82.90 L389.71,82.89 L390.25,82.88 L390.80,82.87 L391.34,82.86 L391.88,82.84 L392.42,82.83 L392.96,82.82 L393.51,82.81 L394.05,82.80 L394.59,82.79 L395.13,82.78 L395.67,82.77 L396.21,82.76 L396.76,82.75 L397.30,82.73 L397.84,82.72 L398.38,82.71 L398.92,82.70 L399.46,82.69 L400.01,82.68 L400.55,82.67 L401.09,82.66 L401.63,82.65 L402.17,82.63 L402.71,82.62 L403.26,82.61 L403.80,82.60 L404.34,82.59 L404.88,82.58 L405.42,82.57 L405.96,82.56 L406.51,82.54 L407.05,82.53 L407.59,82.52 L408.13,82.51 L408.67,82.50 L409.21,82.49 L409.76,82.48 L410.30,82.47 L410.84,82.45 L411.38,82.44 L411.92,82.43 L412.46,82.42 L413.01,82.41 L413.55,82.40 L414.09,82.39 L414.63,82.38 L415.17,82.36 L415.71,82.35 L416.26,82.34 L416.80,82.33 L417.34,82.32 L417.88,82.31 L418.42,82.30 L418.96,82.28 L419.51,82.27 L420.05,82.26 L420.59,82.25 L421.13,82.24 L421.67,82.23 L422.21,82.21 L422.76,82.20 L423.30,82.19 L423.84,82.18 L424.38,82.17 L424.92,82.16 L425.46,82.15 L426.01,82.13 L426.55,82.12 L427.09,82.11 L427.63,82.10 L428.17,82.09 L428.71,82.08 L429.26,82.06 L429.80,82.05 L430.34,82.04 L430.88,82.03 L431.42,82.02 L431.96,82.01 L432.51,81.99 L433.05,81.98 L433.59,81.97 L434.13,81.96 L434.67,81.95 L435.21,81.94 L435.76,81.92 L436.30,81.91 L436.84,81.90 L437.38,81.89 L437.92,81.88 L438.46,81.86 L439.01,81.85 L439.55,81.84 L440.09,81.83 L440.63,81.82 L441.17,81.81 L441.71,81.79 L442.26,81.78 L442.80,81.77 L443.34,81.76 L443.88,81.75 L444.42,81.73 L444.96,81.72 L445.51,81.71 L446.05,81.70 L446.59,81.69 L447.13,81.67 L447.67,81.66 L448.21,81.65 L448.76,81.64 L449.30,81.63 L449.84,81.61 L450.38,81.60 L450.92,81.59 L451.46,81.58 L452.01,81.57 L452.55,81.55 L453.09,81.54 L453.63,81.53 L454.17,81.52 L454.71,81.51 L455.26,81.49 L455.80,81.48 L456.34,81.47 L456.88,81.46 L457.42,81.45 L457.96,81.43 L458.51,81.42 L459.05,81.41 L459.59,81.40 L460.13,81.39 L460.67,81.37 L461.21,81.36 L461.76,81.35 L462.30,81.34 L462.84,81.32 L463.38,81.31 L463.92,81.30 L464.46,81.29 L465.01,81.28 L465.55,81.26 L466.09,81.25 L466.63,81.24 L467.17,81.23 L467.71,81.21 L468.26,81.20 L468.80,81.19 L469.34,81.18 L469.88,81.16 L470.42,81.15 L470.96,81.14 L471.51,81.13 L472.05,81.12 L472.59,81.10 L473.13,81.09 L473.67,81.08 L474.21,81.07 L474.76,81.05 L475.30,81.04 L475.84,81.03 L476.38,81.02 L476.92,81.00 L477.46,80.99 L478.01,80.98 L478.55,80.97 L479.09,80.95 L479.63,80.94 L480.17,80.93 L480.72,80.92 L481.26,80.90 L481.80,80.89 L482.34,80.88 L482.88,80.87 L483.42,80.85 L483.97,80.84 L484.51,80.83 L485.05,80.82 L485.59,80.80 L486.13,80.79 L486.67,80.78 L487.22,80.77 L487.76,80.75 L488.30,80.74 L488.84,80.73 L489.38,80.72 L489.92,80.70 L490.47,80.69 L491.01,80.68 L491.55,80.66 L492.09,80.65 L492.63,80.64 L493.17,80.63 L493.72,80.61 L494.26,80.60 L494.80,80.59 L495.34,80.58 L495.88,80.56 L496.42,80.55 L496.97,80.54 L497.51,80.52 L498.05,80.51 L498.59,80.50 L499.13,80.49 L499.67,80.47 L500.22,80.46 L500.76,80.45 L501.30,80.44 L501.84,80.42 L502.38,80.41 L502.92,80.40 L503.47,80.38 L504.01,80.37 L504.55,80.36 L505.09,80.35 L505.63,80.33 L506.17,80.32 L506.72,80.31 L507.26,80.29 L507.80,80.28 L508.34,80.27 L508.88,80.26 L509.42,80.24 L509.97,80.23 L510.51,80.22 L511.05,80.20 L511.59,80.19 L512.13,80.18 L512.67,80.17 L513.22,80.15 L513.76,80.14 L514.30,80.13 L514.84,80.11 L515.38,80.10 L515.92,80.09 L516.47,80.07 L517.01,80.06 L517.55,80.05 L518.09,80.04 L518.63,80.02 L519.17,80.01 L519.72,80.00 L520.26,79.98 L520.80,79.97 L521.34,79.96 L521.88,79.94 L522.42,79.93 L522.97,79.92 L523.51,79.90 L524.05,79.89 L524.59,79.88 L525.13,79.87 L525.67,79.85 L526.22,79.84 L526.76,79.83 L527.30,79.81 L527.84,79.80 L528.38,79.79 L528.92,79.77 L529.47,79.76 L530.01,79.75 L530.55,79.73 L531.09,79.72 L531.63,79.71 L532.17,79.69 L532.72,79.68 L533.26,79.67 L533.80,79.65 L534.34,79.64 L534.88,79.63 L535.42,79.62 L535.97,79.60 L536.51,79.59 L537.05,79.58 L537.59,79.56 L538.13,79.55 L538.67,79.54 L539.22,79.52 L539.76,79.51 L540.30,79.50 L540.84,79.48 L541.38,79.47 L541.92,79.46 L542.47,79.44 L543.01,79.43 L543.55,79.42 L544.09,79.40 L544.63,79.39 L545.17,79.38 L545.72,79.36 L546.26,79.35 L546.80,79.34 L547.34,79.32 L547.88,79.31 L548.42,79.30 L548.97,79.28 L549.51,79.27 L550.05,79.26 L550.59,79.24 L551.13,79.23 L551.67,79.21 L552.22,79.20 L552.76,79.19 L553.30,79.17 L553.84,79.16 L554.38,79.15 L554.92,79.13 L555.47,79.12 L556.01,79.11 L556.55,79.09 L557.09,79.08 L557.63,79.07 L558.17,79.05 L558.72,79.04 L559.26,79.03 L559.80,79.01 L560.34,79.00 L560.88,78.99 L561.42,78.97 L561.97,78.96 L562.51,78.95 L563.05,78.93 L563.59,78.92 L564.13,78.90 L564.67,78.89 L565.22,78.88 L565.76,78.86 L566.30,78.85" stroke="#000" stroke-width="3.0"/>
</g>
<g fill="none">
<path d="M579.1,74.0 L615.1,74.0" stroke="#000" stroke-width="3"/>
<path d="M579.1,114.2 L593.35,114.2 M607.60,114.2 L615.1,114.2" stroke="#3a7e2e" stroke-width="4.2"/>
<path d="M579.30,154.4 l0.01,0 M593.55,154.4 L607.80,154.4" stroke="#006cbb" stroke-width="4.4" stroke-linecap="round"/>
<path d="M579.30,194.4 l0.01,0 M593.55,194.4 l0.01,0 M607.80,194.4 l0.01,0" stroke="#8b1a8e" stroke-width="4.3" stroke-linecap="round"/>
<path d="M579.1,234.7 L593.35,234.7 M607.60,234.7 L615.1,234.7" stroke="#f6921e" stroke-width="4.3"/>
<path d="M579.1,274.8 L615.1,274.8" stroke="#ff0000" stroke-width="2.9"/>
<path d="M579.1,315.05 L615.1,315.05" stroke="#0000ff" stroke-width="3"/>
</g>
<defs><filter id="gs" x="0" y="0" width="707" height="470" filterUnits="userSpaceOnUse" color-interpolation-filters="sRGB"><feColorMatrix type="saturate" values="0"/></filter></defs>
<g filter="url(#gs)">
<text x="87.7" y="24.0" font-size="33.9" text-anchor="start" textLength="16.3" lengthAdjust="spacingAndGlyphs">1</text>
<text x="46.5" y="112.3" font-size="33.9" text-anchor="start" textLength="57.5" lengthAdjust="spacingAndGlyphs">0.75</text>
<text x="62.8" y="200.7" font-size="33.9" text-anchor="start" textLength="41.2" lengthAdjust="spacingAndGlyphs">0.5</text>
<text x="46.5" y="289.0" font-size="33.9" text-anchor="start" textLength="57.5" lengthAdjust="spacingAndGlyphs">0.25</text>
<text x="87.7" y="377.3" font-size="33.9" text-anchor="start" textLength="16.3" lengthAdjust="spacingAndGlyphs">0</text>
<text x="117.6" y="412.0" font-size="33.9" text-anchor="start" textLength="16.3" lengthAdjust="spacingAndGlyphs">0</text>
<text x="206.9" y="412.0" font-size="33.9" text-anchor="start" textLength="57.5" lengthAdjust="spacingAndGlyphs">0.25</text>
<text x="325.0" y="412.0" font-size="33.9" text-anchor="start" textLength="41.2" lengthAdjust="spacingAndGlyphs">0.5</text>
<text x="426.8" y="412.0" font-size="33.9" text-anchor="start" textLength="57.5" lengthAdjust="spacingAndGlyphs">0.75</text>
<text x="557.2" y="412.0" font-size="33.9" text-anchor="start" textLength="16.3" lengthAdjust="spacingAndGlyphs">1</text>
<text x="646.5" y="412.0" font-size="33.9" text-anchor="start" textLength="57.5" lengthAdjust="spacingAndGlyphs">1.25</text>
<text x="629.5" y="82.2" font-size="33.9" text-anchor="start" textLength="48.6" lengthAdjust="spacingAndGlyphs">270</text>
<text x="629.5" y="122.4" font-size="33.9" text-anchor="start" textLength="48.6" lengthAdjust="spacingAndGlyphs">200</text>
<text x="629.5" y="162.6" font-size="33.9" text-anchor="start" textLength="48.6" lengthAdjust="spacingAndGlyphs">180</text>
<text x="629.5" y="202.6" font-size="33.9" text-anchor="start" textLength="48.6" lengthAdjust="spacingAndGlyphs">170</text>
<text x="629.5" y="242.8" font-size="33.9" text-anchor="start" textLength="48.6" lengthAdjust="spacingAndGlyphs">160</text>
<text x="629.5" y="282.9" font-size="33.9" text-anchor="start" textLength="48.6" lengthAdjust="spacingAndGlyphs">150</text>
<text x="630.2" y="323.7" font-size="33.9" text-anchor="start" textLength="21.4" lengthAdjust="spacingAndGlyphs">T</text>
<rect x="654.9" y="313.0" width="22.4" height="1.3" fill="#000"/>
<rect x="654.9" y="318.05" width="22.4" height="1.3" fill="#000"/>
<text x="677.6" y="323.6" font-size="33.9" text-anchor="start" textLength="16.8" lengthAdjust="spacingAndGlyphs">0</text>
<text x="336.6" y="459.0" font-size="34.6" text-anchor="start" textLength="15.0" lengthAdjust="spacingAndGlyphs" font-style="italic">e</text>
<text x="353.0" y="459.0" font-size="34.6" text-anchor="start" textLength="23.0" lengthAdjust="spacingAndGlyphs" font-style="italic">B</text>
<path d="M393.0,434.9 H397.5 V436.09999999999997 H394.4 V466.40000000000003 H397.5 V467.6 H393.0 Z" fill="#000"/>
<text x="398.6" y="459.0" font-size="35.2" text-anchor="start" textLength="22.6" lengthAdjust="spacingAndGlyphs">G</text>
<text x="421.5" y="459.0" font-size="35.2" text-anchor="start" textLength="15.4" lengthAdjust="spacingAndGlyphs">e</text>
<text x="436.6" y="459.0" font-size="35.2" text-anchor="start" textLength="26.6" lengthAdjust="spacingAndGlyphs">V</text>
<text x="463.9" y="446.5" font-size="21.9" text-anchor="start" textLength="11.3" lengthAdjust="spacingAndGlyphs">2</text>
<path d="M483.1,434.9 H478.6 V436.09999999999997 H481.70000000000005 V466.40000000000003 H478.6 V467.6 H483.1 Z" fill="#000"/>
</g>
<g fill="#000" stroke="none">
<path fill-rule="evenodd" d="M6.8999999999999995,192.1 a6.8,10.2 0 1,0 13.6,0 a6.8,10.2 0 1,0 -13.6,0 Z M7.999999999999999,192.1 a5.7,7.3 0 1,1 11.4,0 a5.7,7.3 0 1,1 -11.4,0 Z"/>
<rect x="2.4" y="190.79999999999998" width="22.8" height="2.6"/>
<rect x="2.4" y="186.79999999999998" width="1.4" height="10.6"/>
<rect x="23.8" y="186.79999999999998" width="1.4" height="10.6"/>
</g>
</svg></body></html>
